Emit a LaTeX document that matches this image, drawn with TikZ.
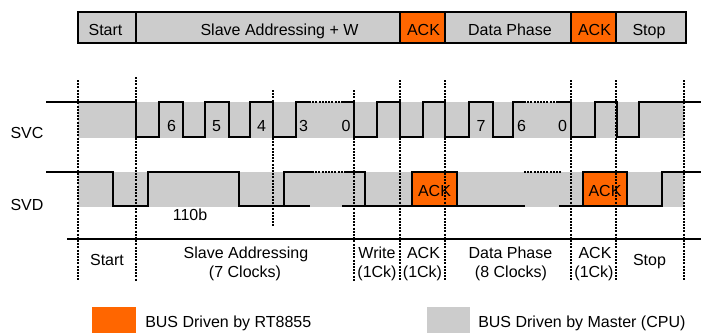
\documentclass[tikz,border=0pt]{standalone}
\usepackage{fontspec}
\setmainfont{Liberation Sans}
\usepackage{xcolor}
\usepackage{tikz}

\begin{document}
\begin{tikzpicture}[x=0.75pt,y=0.75pt,yscale=-1,xscale=1,
  font=\fontsize{12}{14}\selectfont,
  wave/.style={line width=1.1pt},
  guide/.style={line width=1.1pt,dash pattern=on 1.5pt off 0.9pt},
  dots/.style={line width=1.1pt,dash pattern=on 1.5pt off 0.9pt},
  master/.style={fill={rgb, 255:red, 204; green, 204; blue, 204 }},
  slave/.style={fill={rgb, 255:red, 255; green, 102; blue, 0 }},
  lbl/.style={anchor=base,inner sep=0.75pt}]
\useasboundingbox (0,0) rectangle (701,333);

%Shape: Rectangle (header)
\draw [wave][master] (78,12) rectangle (136,43) ;
\draw [wave][master] (136,12) rectangle (400,43) ;
\draw [wave][slave] (400,12) rectangle (445,43) ;
\draw [wave][master] (445,12) rectangle (571,43) ;
\draw [wave][slave] (571,12) rectangle (616,43) ;
\draw [wave][master] (616,12) rectangle (686,43) ;

% Text Node
\draw (105.5,35) node (hStart) [lbl] {Start};
% Text Node
\draw (279.5,35) node (hAddr) [lbl] {Slave Addressing + W};
% Text Node
\draw (423.5,35) node (hAck) [lbl] {ACK};
% Text Node
\draw (510,35) node (hData) [lbl] {Data Phase};
% Text Node
\draw (594.5,35) node (hAckB) [lbl] {ACK};
% Text Node
\draw (649,35) node (hStop) [lbl] {Stop};

%Shape: Rectangle (bus bands)
\path [master] (78,102) rectangle (684,138) ;
\path [master] (78,172) rectangle (684,207) ;

%Shape: Rectangle (ACK from slave)
\draw [wave][slave] (412,172) rectangle (457,206) ;
\draw [wave][slave] (583,172) rectangle (627,206) ;

% Text Node
\draw (434.5,196) node (ackA) [lbl] {ACK};
% Text Node
\draw (605,196) node (ackB) [lbl] {ACK};

%Straight Lines (phase borders)
\draw [guide] (78,80) -- (78,281) ;
\draw [guide] (136,77) -- (136,281) ;
\draw [guide] (273,90) -- (273,226) ;
\draw [guide] (354,90) -- (354,281) ;
\draw [guide] (400,80) -- (400,281) ;
\draw [guide] (445,80) -- (445,281) ;
\draw [guide] (571,80) -- (571,281) ;
\draw [guide] (616,80) -- (616,281) ;
\draw [guide] (684,80) -- (684,281) ;

%Straight Lines (SVC)
\draw [wave] (46,102) -- (136,102) -- (136,137) -- (159,137) -- (159,102) -- (183,102) -- (183,137) -- (205,137) -- (205,102) -- (229,102) -- (229,137) -- (250,137) -- (250,102) -- (273,102) -- (273,137) -- (296,137) -- (296,102) -- (309,102) ;
\draw [dots] (309,102) -- (342,102) ;
\draw [wave] (342,102) -- (354,102) -- (354,137) -- (377,137) -- (377,102) -- (400,102) -- (400,137) -- (423,137) -- (423,102) -- (445,102) -- (445,137) -- (469,137) -- (469,102) -- (493,102) -- (493,137) -- (513,137) -- (513,102) -- (524,102) ;
\draw [dots] (524,102) -- (558,102) ;
\draw [wave] (558,102) -- (571,102) -- (571,137) -- (595,137) -- (595,102) -- (617,102) -- (617,137) -- (639,137) -- (639,102) -- (701,102) ;

%Straight Lines (SVD)
\draw [wave] (46,172) -- (113,172) -- (113,206) -- (148,206) -- (148,172) -- (239,172) -- (239,206) -- (310,206) ;
\draw [wave] (284,206) -- (284,172) -- (312,172) ;
\draw [dots] (312,172) -- (345,172) ;
\draw [wave] (345,172) -- (365,172) -- (365,206) ;
\draw [wave] (342,206) -- (412,206) ;
\draw [wave] (457,206) -- (525,206) ;
\draw [dots] (524,172) -- (562,172) ;
\draw [wave] (559,206) -- (583,206) ;
\draw [wave] (627,206) -- (662,206) -- (662,172) -- (701,172) ;

% Text Node
\draw (27,138) node (svc) [lbl] {SVC};
% Text Node
\draw (27,210) node (svd) [lbl] {SVD};

% Text Node
\draw (171.5,131) node (bSix) [lbl] {6};
% Text Node
\draw (216.5,131) node (bFive) [lbl] {5};
% Text Node
\draw (261.5,131) node (bFour) [lbl] {4};
% Text Node
\draw (303.5,131) node (bThree) [lbl] {3};
% Text Node
\draw (346,131) node (bZero) [lbl] {0};
% Text Node
\draw (481,131) node (dSeven) [lbl] {7};
% Text Node
\draw (521.5,131) node (dSix) [lbl] {6};
% Text Node
\draw (562.5,131) node (dZero) [lbl] {0};
% Text Node
\draw (190,220) node (addr) [lbl] {110b};

%Straight Lines
\draw [line width=1.1pt] (67,239) -- (701,239) ;

% Text Node
\draw (107,265) node (pStart) [lbl] {Start};
% Text Node
\draw (246,258) node (pAddr) [lbl] {Slave Addressing};
\draw (245,277) node (pAddrN) [lbl] {(7 Clocks)};
% Text Node
\draw (377,258) node (pWrite) [lbl] {Write};
\draw (377,277) node (pWriteN) [lbl] {(1Ck)};
% Text Node
\draw (423.5,258) node (pAck) [lbl] {ACK};
\draw (422.5,277) node (pAckN) [lbl] {(1Ck)};
% Text Node
\draw (510.5,258) node (pData) [lbl] {Data Phase};
\draw (511,277) node (pDataN) [lbl] {(8 Clocks)};
% Text Node
\draw (595,258) node (pAckB) [lbl] {ACK};
\draw (594,277) node (pAckBN) [lbl] {(1Ck)};
% Text Node
\draw (649.5,265) node (pStop) [lbl] {Stop};

%Shape: Rectangle (legend)
\path [slave] (92,307) rectangle (136,333) ;
\path [master] (427,307) rectangle (470,333) ;
% Text Node
\draw (145,327) node (keySlave) [anchor=base west,inner sep=0pt] {BUS Driven by RT8855};
% Text Node
\draw (478,327) node (keyMaster) [anchor=base west,inner sep=0pt] {BUS Driven by Master (CPU)};
\end{tikzpicture}
\end{document}
